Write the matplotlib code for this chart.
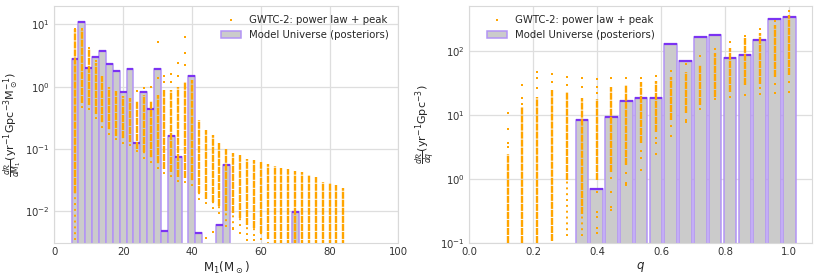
import numpy as np
import matplotlib
matplotlib.use("Agg")
import matplotlib.pyplot as plt
import seaborn as sns

# ---- primary mass panel ----
m1_cols = [6, 8, 10, 12, 14, 16, 18, 20, 22, 24, 26, 28, 30, 32, 34, 36, 38, 40, 42, 44,
           46, 48, 50, 52, 54, 56, 58, 60, 62, 64, 66, 68, 70, 72, 74, 76, 78, 80, 82, 84]
m1_core_hi = [8.4, 8.0, 4.0, 2.4, 1.5, 1.0, 0.85, 0.7, 0.65, 0.6, 0.75, 0.6, 0.75, 0.9, 0.9, 1.0, 1.2, 1.3, 0.29, 0.2,
              0.165, 0.125, 0.10, 0.087, 0.08, 0.07, 0.066, 0.062, 0.058, 0.053, 0.05, 0.047, 0.045, 0.042, 0.038, 0.036, 0.030, 0.028, 0.026, 0.024]
m1_core_lo = [0.02, 0.55, 0.5, 0.36, 0.27, 0.21, 0.16, 0.15, 0.13, 0.10, 0.09, 0.075, 0.06, 0.048, 0.042, 0.035, 0.034, 0.032, 0.02, 0.016,
              0.014, 0.012, 0.010, 0.0094, 0.0077, 0.006, 0.0054, 0.0045, 0.0036, 0.002, 0.002, 0.002, 0.002, 0.002, 0.002, 0.002, 0.002, 0.002, 0.002, 0.002]
m1_tail_lo = [0.0035, 0.45, 0.42, 0.3, 0.22, 0.17, 0.14, 0.12, 0.11, 0.09, 0.07, 0.06, 0.048, 0.04, 0.035, 0.03, 0.028, 0.025, 0.015, 0.013,
              0.011, 0.009, 0.0055, 0.0052, 0.0058, 0.0042, 0.004, 0.0035, 0.003, 0.002, 0.002, 0.002, 0.002, 0.002, 0.002, 0.002, 0.002, 0.002, 0.002, 0.002]
m1_out_x = [6, 8, 10, 12, 24, 26, 28, 30, 30, 32, 32, 34, 34, 36, 36, 38, 38, 38, 44, 46, 52, 54, 56, 58]
m1_out_y = [8.6, 8.5, 4.2, 2.6, 0.85, 0.95, 1.0, 5.3, 1.4, 1.5, 1.2, 1.6, 1.2, 2.4, 1.5, 6.3, 3.5, 2.2,
            0.0037, 0.0047, 0.0052, 0.0045, 0.0034, 0.0034]

m1_bar_x = [6, 8, 10, 12, 14, 16, 18, 20, 22, 24, 26, 28, 30, 32, 34, 36, 40, 42, 48, 50, 70]
m1_bar_h = [2.8, 11.0, 1.97, 2.95, 3.77, 2.36, 1.76, 0.81, 1.94, 0.123, 0.81, 0.44, 1.92, 0.0049, 0.163, 0.075,
            1.48, 0.0044, 0.006, 0.055, 0.0098]

# ---- mass ratio panel ----
q_cols = [0.120, 0.166, 0.213, 0.259, 0.305, 0.352, 0.398, 0.444, 0.491, 0.537,
          0.583, 0.629, 0.676, 0.722, 0.768, 0.815, 0.861, 0.907, 0.954, 1.000]
q_core_hi = [2.5, 13.4, 19, 24, 23, 18, 17.5, 27.5, 29, 33, 34, 39, 47, 60, 91, 111, 155, 186, 251, 360]
q_core_lo = [0.1, 0.1, 0.1, 0.11, 0.97, 0.29, 0.97, 1.3, 1.66, 3.6, 5.5, 8.3, 10.6, 14.3, 19.2, 23, 29, 30, 39, 42]
q_tail_lo = [0.1, 0.1, 0.1, 0.11, 0.13, 0.13, 0.97, 1.3, 1.66, 3.6, 5.5, 8.3, 10.6, 14.3, 19.2, 23, 29, 30, 39, 42]
q_out_x = [0.120, 0.120, 0.120, 0.120, 0.166, 0.166, 0.166, 0.213, 0.213, 0.213, 0.259, 0.259,
           0.305, 0.305, 0.352, 0.352, 0.398, 0.398, 0.398, 0.398, 0.398, 0.398, 0.398, 0.398,
           0.444, 0.444, 0.444, 0.444, 0.444, 0.491, 0.491, 0.491, 0.491, 0.537, 0.537, 0.537, 0.537,
           0.583, 0.583, 0.583, 0.583, 0.629, 0.629, 0.629, 0.676, 0.676, 0.676, 0.722, 0.722,
           0.768, 0.768, 0.815, 0.815, 0.861, 0.861, 0.907, 0.907, 0.907, 0.954, 0.954, 0.954, 1.0, 1.0, 1.0]
q_out_y = [10.5, 6.0, 3.6, 3.1, 29, 18.6, 15, 46, 38, 26, 43, 32,
           39, 29, 37, 27.5, 36, 27.5, 21.7, 0.64, 0.31, 0.26, 0.17, 0.145,
           37, 1.03, 0.64, 0.37, 0.33, 37, 1.25, 0.86, 0.8, 38, 2.7, 2.1, 1.4,
           40, 4.4, 3.6, 2.5, 48, 6.6, 4.6, 61, 8.3, 7.7, 81, 12.4,
           105, 17.7, 134, 19.2, 171, 20, 218, 26, 21, 294, 30, 22, 417, 33, 23]

q_bar_x = [0.352, 0.398, 0.444, 0.491, 0.537, 0.583, 0.629, 0.676, 0.722, 0.768, 0.815, 0.861, 0.907, 0.954, 1.000]
q_bar_h = [8.2, 0.70, 9.4, 16.7, 18.6, 18.2, 127, 69, 162, 172, 77, 86, 145, 311, 331]

orange = "#ffa500"
gray = "#cbcbcb"
purple_edge = "#b394f5"
purple_top = "#7b33f2"

sns.set_style("whitegrid", {"axes.edgecolor": "0.85", "grid.color": "0.87"})
plt.rcParams["font.family"] = ["DejaVu Sans"]
plt.rcParams["font.size"] = 7.3
plt.rcParams["mathtext.fontset"] = "dejavusans"


def draw_panel(ax, cols, core_hi, core_lo, tail_lo, out_x, out_y, bar_x, bar_h, width):
    bars = ax.bar(bar_x, bar_h, width=width, bottom=1e-5, color=gray, edgecolor=purple_edge,
                  linewidth=1.1, zorder=2, label="Model Universe (posteriors)")
    bx = np.array(bar_x)
    ax.hlines(bar_h, bx - width / 2, bx + width / 2, color=purple_top, linewidth=1.6, zorder=3)
    ax.vlines(cols, tail_lo, core_lo, color=orange, linewidth=1.4, linestyles=(0, (1, 2.0)), zorder=4)
    ax.vlines(cols, core_lo, core_hi, color=orange, linewidth=1.7, linestyles=(0, (3, 0.4)), zorder=4)
    dots = ax.scatter(out_x, out_y, s=2.5, color=orange, marker="s", linewidths=0, zorder=5,
                      label="GWTC-2: power law + peak")
    ax.set_yscale("log")
    ax.grid(True, which="major", linewidth=0.9)
    ax.grid(False, which="minor")
    ax.tick_params(which="both", length=0, pad=3, labelcolor="#333333")
    ax.yaxis.set_minor_locator(matplotlib.ticker.NullLocator())
    return dots, bars


fig = plt.figure(figsize=(8.18, 2.77), dpi=100)
ax1 = fig.add_axes([0.0664, 0.1217, 0.4206, 0.8577])
ax2 = fig.add_axes([0.5737, 0.1217, 0.4186, 0.8577])

d1, b1 = draw_panel(ax1, m1_cols, m1_core_hi, m1_core_lo, m1_tail_lo, m1_out_x, m1_out_y, m1_bar_x, m1_bar_h, 2.0)
ax1.set_xlim(0, 100)
ax1.set_ylim(3.06e-3, 20)
ax1.set_xticks([0, 20, 40, 60, 80, 100])
ax1.set_xlabel(r"M$_1$(M$_\odot$)", fontsize=8.5, labelpad=2)
ax1.set_ylabel(r"$\frac{d\mathcal{R}}{dM_1}$(yr$^{-1}$Gpc$^{-3}$M$_\odot^{-1}$)", fontsize=8, labelpad=1)
ax1.legend([d1, b1], ["GWTC-2: power law + peak", "Model Universe (posteriors)"], loc="upper right",
           frameon=False, fontsize=7.3, markerscale=1.0, borderaxespad=0.5)

d2, b2 = draw_panel(ax2, q_cols, q_core_hi, q_core_lo, q_tail_lo, q_out_x, q_out_y, q_bar_x, q_bar_h, 0.039)
ax2.set_xlim(0, 1.07)
ax2.set_ylim(0.1, 500)
ax2.set_xticks([0.0, 0.2, 0.4, 0.6, 0.8, 1.0])
ax2.set_xlabel(r"$q$", fontsize=8.5, labelpad=2)
ax2.set_ylabel(r"$\frac{d\mathcal{R}}{dq}$(yr$^{-1}$Gpc$^{-3}$)", fontsize=8, labelpad=2)
ax2.legend([d2, b2], ["GWTC-2: power law + peak", "Model Universe (posteriors)"], loc="upper left",
           frameon=False, fontsize=7.3, markerscale=1.0, borderaxespad=0.5, bbox_to_anchor=(0.025, 1.0))

fig.savefig("out.png", dpi=100)
